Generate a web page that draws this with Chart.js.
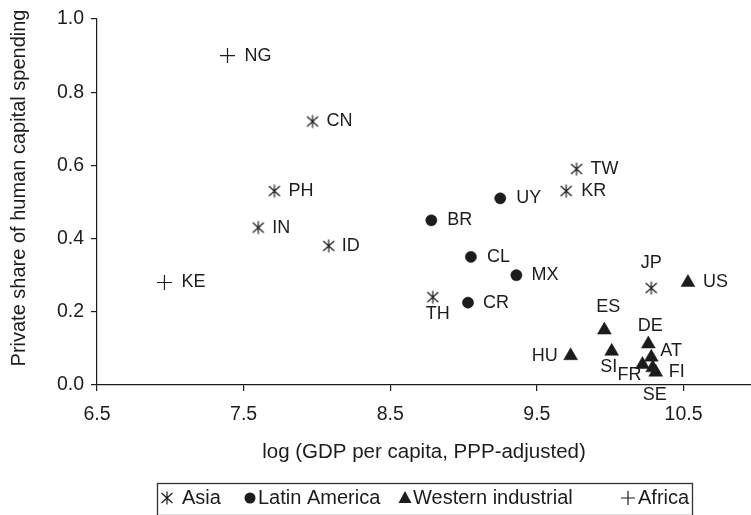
<!DOCTYPE html>
<html>
<head>
<meta charset="utf-8">
<script src="https://cdn.jsdelivr.net/npm/chart.js@4.4.1/dist/chart.umd.min.js"></script>
<style>
  html, body { margin: 0; padding: 0; background: #fff; }
  canvas { display: block; }
</style>
</head>
<body>
<canvas id="scatter" width="751" height="515"></canvas>
<script>
// values
const asiaCodes = ["CN", "PH", "IN", "ID", "TH", "TW", "KR", "JP"];
const asiaX = [7.97, 7.71, 7.60, 8.08, 8.79, 9.77, 9.70, 10.28];
const asiaY = [0.72, 0.53, 0.43, 0.38, 0.24, 0.59, 0.53, 0.265];

const latinCodes = ["BR", "UY", "CL", "MX", "CR"];
const latinX = [8.78, 9.25, 9.05, 9.36, 9.03];
const latinY = [0.45, 0.51, 0.35, 0.30, 0.225];

const westCodes = ["US", "ES", "HU", "SI", "DE", "AT", "FR", "FI", "SE"];
const westX = [10.53, 9.96, 9.73, 10.01, 10.26, 10.28, 10.22, 10.31, 10.29];
const westY = [0.28, 0.15, 0.08, 0.092, 0.112, 0.076, 0.056, 0.035, 0.047];

const africaCodes = ["NG", "KE"];
const africaX = [7.39, 6.96];
const africaY = [0.90, 0.28];

const xTicks = [6.5, 7.5, 8.5, 9.5, 10.5];
const yTicks = [0, 0.2, 0.4, 0.6, 0.8, 1.0];

const FONT = "'Liberation Sans', Arial, Helvetica, sans-serif";
const INK = "#1c1c1c";

// label placement next to each marker: [dx, dy, align]
const labelPlace = {
  NG: [17, 0], KE: [17, 0],
  CN: [14, 0], PH: [14, 0], IN: [14, 0], ID: [13, 0], TW: [14, 0], KR: [15, 0],
  TH: [5, 17, "center"], JP: [0, -25, "center"],
  BR: [16, 0], UY: [16, 0], CL: [16, 0], MX: [15, 0], CR: [15, 0],
  US: [15, 0], ES: [4, -23, "center"], HU: [-13, 0, "right"], SI: [-3, 16, "center"],
  DE: [2, -18, "center"], AT: [9, -6], FR: [-13, 11, "center"], FI: [13, 0], SE: [2, 27, "center"]
};

function pts(xs, ys) {
  return xs.map((x, i) => ({ x: x, y: ys[i] }));
}

// six-armed asterisk marker
const star = document.createElement("canvas");
star.width = 16;
star.height = 16;
(function () {
  const c = star.getContext("2d");
  c.strokeStyle = INK;
  c.lineWidth = 1.2;
  c.beginPath();
  c.moveTo(8, 1.5); c.lineTo(8, 14.5);
  c.moveTo(2.5, 3); c.lineTo(13.5, 13);
  c.moveTo(2.5, 13); c.lineTo(13.5, 3);
  c.stroke();
})();

const pointLabels = {
  id: "pointLabels",
  afterDatasetsDraw(chart) {
    const ctx = chart.ctx;
    ctx.save();
    ctx.font = "18px " + FONT;
    ctx.fillStyle = INK;
    ctx.textBaseline = "middle";
    chart.data.datasets.forEach((ds, i) => {
      chart.getDatasetMeta(i).data.forEach((pt, j) => {
        const code = ds.codes[j];
        const p = labelPlace[code];
        ctx.textAlign = p[2] || "left";
        ctx.fillText(code, pt.x + p[0], pt.y + p[1]);
      });
    });
    ctx.restore();
  }
};

// axis titles and boxed legend
const frame = {
  id: "frame",
  afterDraw(chart) {
    const ctx = chart.ctx;
    const area = chart.chartArea;
    ctx.save();
    ctx.fillStyle = INK;
    ctx.textBaseline = "middle";

    ctx.font = "20.5px " + FONT;
    ctx.textAlign = "center";
    ctx.fillText("log (GDP per capita, PPP-adjusted)", (area.left + area.right) / 2, 452);

    ctx.save();
    ctx.font = "20px " + FONT;
    ctx.translate(19, 188);
    ctx.rotate(-Math.PI / 2);
    ctx.fillText("Private share of human capital spending", 0, 0);
    ctx.restore();

    // legend
    ctx.font = "20px " + FONT;
    ctx.textAlign = "left";
    ctx.strokeStyle = "#333";
    ctx.lineWidth = 1.3;
    ctx.strokeRect(157.5, 483.5, 535, 32);
    const cy = 498;
    const symX = [167, 250, 405, 628];
    const txtX = [182, 258, 413, 638];
    ctx.drawImage(star, symX[0] - 8, cy - 8);
    ctx.beginPath();
    ctx.arc(symX[1], cy, 5.5, 0, Math.PI * 2);
    ctx.fill();
    ctx.beginPath();
    ctx.moveTo(symX[2], cy - 7);
    ctx.lineTo(symX[2] + 6.5, cy + 5);
    ctx.lineTo(symX[2] - 6.5, cy + 5);
    ctx.closePath();
    ctx.fill();
    ctx.strokeStyle = INK;
    ctx.lineWidth = 1.2;
    ctx.beginPath();
    ctx.moveTo(symX[3] - 7, cy); ctx.lineTo(symX[3] + 7, cy);
    ctx.moveTo(symX[3], cy - 7); ctx.lineTo(symX[3], cy + 7);
    ctx.stroke();
    chart.data.datasets.forEach((ds, i) => {
      ctx.fillText(ds.label, txtX[i], cy);
    });
    ctx.restore();
  }
};

const tickFont = { family: FONT, size: 19.5 };

new Chart(document.getElementById("scatter"), {
  type: "scatter",
  data: {
    datasets: [
      {
        label: "Asia",
        codes: asiaCodes,
        data: pts(asiaX, asiaY),
        pointStyle: star,
        pointRadius: 7,
      },
      {
        label: "Latin America",
        codes: latinCodes,
        data: pts(latinX, latinY),
        pointStyle: "circle",
        pointRadius: 5.6,
        backgroundColor: INK,
        borderColor: INK,
        borderWidth: 0.5,
      },
      {
        label: "Western industrial",
        codes: westCodes,
        data: pts(westX, westY),
        pointStyle: "triangle",
        pointRadius: 8,
        backgroundColor: INK,
        borderColor: INK,
        borderWidth: 0.5,
      },
      {
        label: "Africa",
        codes: africaCodes,
        data: pts(africaX, africaY),
        pointStyle: "cross",
        pointRadius: 7.5,
        borderColor: INK,
        borderWidth: 1.2,
      },
    ],
  },
  options: {
    responsive: false,
    animation: false,
    layout: { autoPadding: false, padding: { top: 19, right: 0, left: 0, bottom: 85 } },
    plugins: {
      legend: { display: false },
      tooltip: { enabled: false },
    },
    scales: {
      x: {
        type: "linear",
        min: 6.5,
        max: 10.96,
        afterBuildTicks: (s) => { s.ticks = xTicks.map((v) => ({ value: v })); },
        afterFit: (s) => { s.height = 45; s.paddingRight = 0; s.paddingLeft = 0; },
        ticks: { font: tickFont, color: INK, padding: 12, callback: (v) => v.toFixed(1) },
        grid: { drawOnChartArea: false, tickLength: 6, color: INK, lineWidth: 1.2 },
        border: { color: INK, width: 1.2 },
      },
      y: {
        min: 0,
        max: 1,
        afterBuildTicks: (s) => { s.ticks = yTicks.map((v) => ({ value: v })); },
        afterFit: (s) => { s.width = 97; },
        ticks: { font: tickFont, color: INK, padding: 7, callback: (v) => v.toFixed(1) },
        grid: { drawOnChartArea: false, tickLength: 6, color: INK, lineWidth: 1.2 },
        border: { color: INK, width: 1.2 },
      },
    },
  },
  plugins: [pointLabels, frame],
});
</script>
</body>
</html>
